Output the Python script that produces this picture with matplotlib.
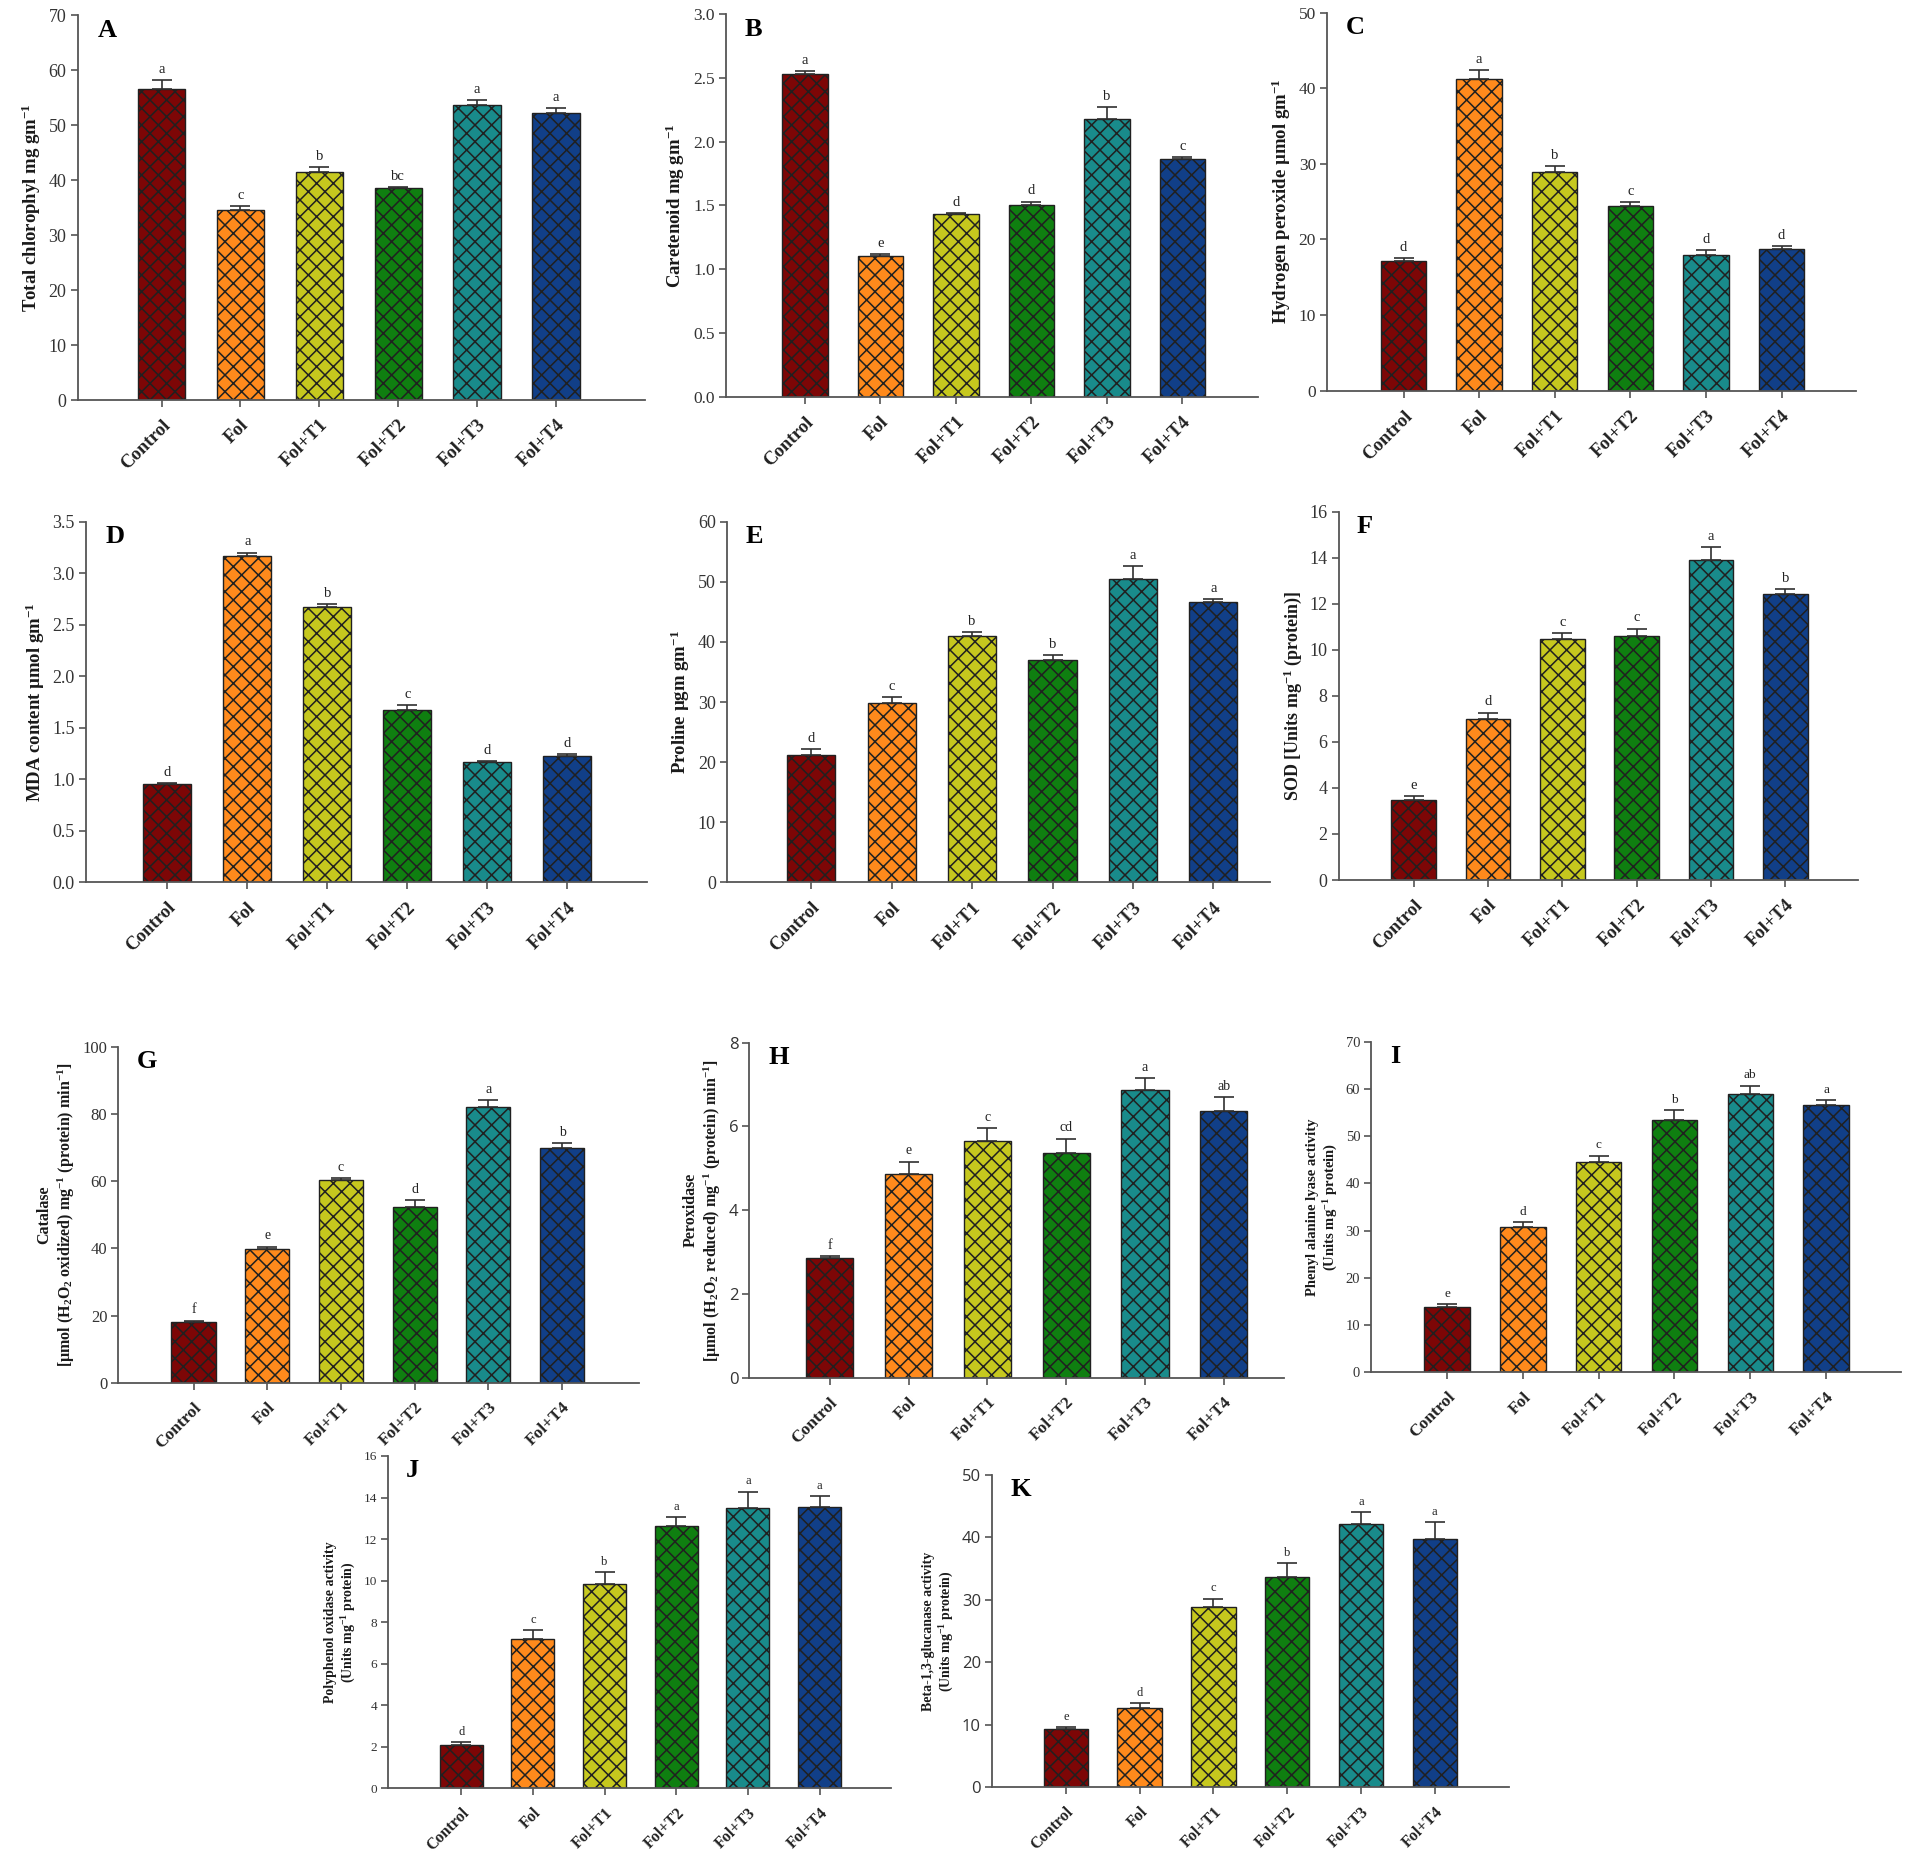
import numpy as np
import matplotlib
matplotlib.use('Agg')
import matplotlib.pyplot as plt
from matplotlib import ticker

plt.rcParams['font.family'] = ['Liberation Serif', 'DejaVu Serif']
plt.rcParams['mathtext.fontset'] = 'custom'
plt.rcParams['mathtext.rm'] = 'Liberation Serif:bold'
plt.rcParams['mathtext.it'] = 'Liberation Serif:bold:italic'
plt.rcParams['mathtext.bf'] = 'Liberation Serif:bold'
plt.rcParams['mathtext.default'] = 'rm'
plt.rcParams['hatch.linewidth'] = 1.1
plt.rcParams['hatch.color'] = '#1a1a1a'

# groupes de traitement
treatments = ['Control', 'Fol', 'Fol+T1', 'Fol+T2', 'Fol+T3', 'Fol+T4']
colors = ['#7d0606', '#ff8a1c', '#c6c81e', '#0f7f10', '#198b8b', '#113f88']

# A - chlorophylle totale
chl_mean = [56.5, 34.5, 41.5, 38.5, 53.6, 52.2]
chl_err = [1.6, 0.8, 0.9, 0.2, 1.0, 0.9]
chl_sig = ['a', 'c', 'b', 'bc', 'a', 'a']

# B - carotenoides
car_mean = [2.53, 1.10, 1.43, 1.50, 2.18, 1.86]
car_err = [0.02, 0.02, 0.01, 0.03, 0.09, 0.02]
car_sig = ['a', 'e', 'd', 'd', 'b', 'c']

# C - peroxyde d'hydrogene
h2o2_mean = [17.2, 41.2, 28.9, 24.4, 18.0, 18.8]
h2o2_err = [0.3, 1.2, 0.8, 0.5, 0.6, 0.3]
h2o2_sig = ['d', 'a', 'b', 'c', 'd', 'd']

# D - MDA
mda_mean = [0.95, 3.17, 2.67, 1.67, 1.165, 1.23]
mda_err = [0.015, 0.03, 0.03, 0.05, 0.015, 0.013]
mda_sig = ['d', 'a', 'b', 'c', 'd', 'd']

# E - proline
pro_mean = [21.2, 29.8, 40.9, 37.0, 50.5, 46.7]
pro_err = [0.9, 1.0, 0.8, 0.8, 2.1, 0.4]
pro_sig = ['d', 'c', 'b', 'b', 'a', 'a']

# F - SOD
sod_mean = [3.49, 6.98, 10.48, 10.58, 13.92, 12.41]
sod_err = [0.16, 0.29, 0.26, 0.34, 0.55, 0.23]
sod_sig = ['e', 'd', 'c', 'c', 'a', 'b']

# G - catalase
cat_mean = [18.0, 39.8, 60.2, 52.3, 82.1, 69.8]
cat_err = [0.5, 0.7, 0.7, 2.1, 1.9, 1.4]
cat_sig = ['f', 'e', 'c', 'd', 'a', 'b']

# H - peroxydase
pox_mean = [2.87, 4.86, 5.65, 5.37, 6.87, 6.38]
pox_err = [0.03, 0.30, 0.32, 0.34, 0.29, 0.33]
pox_sig = ['f', 'e', 'c', 'cd', 'a', 'ab']

# I - PAL
pal_mean = [13.8, 30.8, 44.5, 53.4, 59.0, 56.6]
pal_err = [0.6, 1.0, 1.4, 2.1, 1.7, 1.1]
pal_sig = ['e', 'd', 'c', 'b', 'ab', 'a']

# J - PPO
ppo_mean = [2.10, 7.19, 9.84, 12.63, 13.50, 13.56]
ppo_err = [0.13, 0.42, 0.58, 0.42, 0.79, 0.52]
ppo_sig = ['d', 'c', 'b', 'a', 'a', 'a']

# K - beta-1,3-glucanase
glu_mean = [9.26, 12.6, 28.9, 33.6, 42.2, 39.7]
glu_err = [0.37, 0.8, 1.3, 2.3, 1.9, 2.7]
glu_sig = ['e', 'd', 'c', 'b', 'a', 'a']

W, H = 1906, 1853
fig = plt.figure(figsize=(W / 100, H / 100), dpi=100)
fig.patch.set_facecolor('white')


def add_axes_px(x0, ytop, x1, ybot):
    return fig.add_axes([x0 / W, 1 - ybot / H, (x1 - x0) / W, (ybot - ytop) / H])


def panel(box, xlim, letter, means, errs, sig, ymax, ystep, ylabel,
          tick_fs=13, lab_fs=13.5, xt_fs=13.5, sig_fs=10.5, tick_font=None, fmt=None):
    ax = add_axes_px(*box)
    x = np.arange(len(treatments))
    ax.bar(x, means, width=0.6, color=colors, edgecolor='#202020',
           linewidth=1.0, hatch='xx', zorder=2)
    ax.errorbar(x, means, yerr=[np.zeros(len(errs)), errs], fmt='none',
                ecolor='#303030', elinewidth=1.2, capsize=7, capthick=1.2, zorder=3)
    for xi, m, e, s in zip(x, means, errs, sig):
        ax.annotate(s, (xi, m + e), xytext=(0, 3), textcoords='offset points',
                    ha='center', va='bottom', fontsize=sig_fs, color='#222222')

    ax.set_xlim(*xlim)
    ax.set_ylim(0, ymax)
    ax.yaxis.set_major_locator(ticker.MultipleLocator(ystep))
    if fmt:
        ax.yaxis.set_major_formatter(ticker.FormatStrFormatter(fmt))
    ax.set_xticks(x)
    ax.set_xticklabels(treatments, rotation=45, ha='right', rotation_mode='anchor',
                       fontweight='bold', fontsize=xt_fs, color='#222222')

    for s in ['top', 'right']:
        ax.spines[s].set_visible(False)
    for s in ['left', 'bottom']:
        ax.spines[s].set_color('#555555')
        ax.spines[s].set_linewidth(1.3)
    ax.tick_params(axis='both', direction='out', length=5, width=1.2, color='#555555')
    ax.tick_params(axis='y', labelsize=tick_fs, labelcolor='#333333', pad=3)
    ax.tick_params(axis='x', pad=7)
    if tick_font:
        ax.tick_params(axis='y', labelfontfamily=tick_font)

    ax.set_ylabel(ylabel, fontsize=lab_fs, fontweight='bold', color='#1a1a1a')
    ax.text(0.035, 0.99, letter, transform=ax.transAxes, fontsize=19,
            fontweight='bold', va='top', ha='left')
    return ax


panel((77.6, 15, 645, 400), (-1.065, 6.13), 'A', chl_mean, chl_err, chl_sig, 70, 10,
      'Total chlorophyl mg gm$^{-1}$')
panel((725.7, 14, 1258, 396.7), (-1.05, 6.0), 'B', car_mean, car_err, car_sig, 3.0, 0.5,
      'Caretenoid mg gm$^{-1}$', tick_fs=12.5, fmt='%.1f')
panel((1327.2, 12.7, 1855.6, 390.7), (-1.01, 5.98), 'C', h2o2_mean, h2o2_err, h2o2_sig, 50, 10,
      'Hydrogen peroxide \u00b5mol gm$^{-1}$', tick_fs=12.5)

panel((85.7, 521.7, 647.3, 882.3), (-1.02, 6.0), 'D', mda_mean, mda_err, mda_sig, 3.5, 0.5,
      'MDA content \u00b5mol gm$^{-1}$', fmt='%.1f')
panel((726.9, 521.7, 1269.6, 882.3), (-1.05, 5.7), 'E', pro_mean, pro_err, pro_sig, 60, 10,
      'Proline \u00b5gm gm$^{-1}$')
panel((1338.7, 511.7, 1858.1, 880), (-1.01, 5.98), 'F', sod_mean, sod_err, sod_sig, 16, 2,
      'SOD [Units mg$^{-1}$ (protein)]', lab_fs=13)

panel((118.4, 1046.7, 639.4, 1382.7), (-1.02, 6.05), 'G', cat_mean, cat_err, cat_sig, 100, 20,
      'Catalase\n[\u00b5mol (H$_2$O$_2$ oxidized) mg$^{-1}$ (protein) min$^{-1}$]',
      tick_fs=12, lab_fs=11.5, xt_fs=12.5, sig_fs=10)
panel((749.4, 1042.7, 1284.4, 1377.7), (-1.02, 5.77), 'H', pox_mean, pox_err, pox_sig, 8, 2,
      'Peroxidase\n[\u00b5mol (H$_2$O$_2$ reduced) mg$^{-1}$ (protein) min$^{-1}$]',
      tick_fs=12, lab_fs=11.5, xt_fs=12.5, sig_fs=10, tick_font='Open Sans')
panel((1371.3, 1041.7, 1901.1, 1372.3), (-1.0, 5.99), 'I', pal_mean, pal_err, pal_sig, 70, 10,
      'Phenyl alanine lyase activity\n(Units mg$^{-1}$ protein)',
      tick_fs=10.5, lab_fs=10.5, xt_fs=12.5, sig_fs=9.5)

panel((388, 1456, 891.3, 1788.3), (-1.02, 6.0), 'J', ppo_mean, ppo_err, ppo_sig, 16, 2,
      'Polyphenol oxidase activity\n(Units mg$^{-1}$ protein)',
      tick_fs=9.5, lab_fs=10, xt_fs=11.5, sig_fs=9)
panel((992, 1475, 1508.6, 1787), (-1.0, 6.0), 'K', glu_mean, glu_err, glu_sig, 50, 10,
      'Beta-1,3-glucanase activity\n(Units mg$^{-1}$ protein)',
      tick_fs=12, lab_fs=10, xt_fs=11.5, sig_fs=9, tick_font='Open Sans')

plt.savefig('out.png', dpi=100, facecolor='white')
